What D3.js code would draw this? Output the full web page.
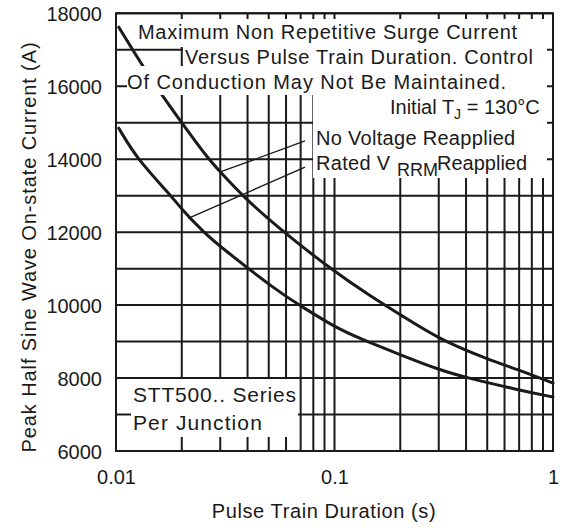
<!DOCTYPE html>
<html><head><meta charset="utf-8">
<script src="https://cdn.jsdelivr.net/npm/d3@7"></script>
<style>
body{margin:0;background:#fff}
svg{display:block}
text{font-family:"Liberation Sans",Arial,Helvetica,sans-serif;fill:#1a1a1a}
</style></head><body>
<svg id="c" width="562" height="528"></svg>
<script>
// ---- data ----
const gridDurations = [0.01,0.02,0.03,0.04,0.05,0.06,0.07,0.08,0.09,0.1,0.2,0.3,0.4,0.5,0.6,0.7,0.8,0.9,1];
const gridCurrents = [6000,7000,8000,9000,10000,11000,12000,13000,14000,15000,16000,17000,18000];
const xTickValues = [0.01,0.1,1];
const xTickLabels = ["0.01","0.1","1"];
const yTickValues = [6000,8000,10000,12000,14000,16000,18000];
const yTickLabels = ["6000","8000","10000","12000","14000","16000","18000"];

const noVoltDuration = [0.0103,0.013,0.0162,0.02,0.0261,0.03,0.0381,0.0545,0.0953,0.15,0.2,0.3,0.5,0.7,1.0];
const noVoltCurrent  = [17620,16630,15760,15000,14050,13650,12980,12150,11000,10200,9740,9070,8520,8220,7860];
const ratedDuration  = [0.0103,0.0125,0.0179,0.02,0.0252,0.03,0.0563,0.0696,0.1,0.131,0.2,0.3,0.4,0.7,1.0];
const ratedCurrent   = [14850,14000,13000,12620,12000,11600,10330,9990,9400,9080,8640,8230,8010,7670,7480];

const leaderNoVolt = [[0.03,13650],[0.0733,14500]];
const leaderRated  = [[0.0214,12380],[0.0733,13780]];

// ---- layout ----
const svg = d3.select("#c");
const L = 116, R = 553, T = 13.3, B = 451;
const x = d3.scaleLog().domain([0.01,1]).range([L,R]);
const y = d3.scaleLinear().domain([6000,18000]).range([B,T]);
const ink = "#1a1a1a";

// mask regions where annotation text sits over the grid
const defs = svg.append("defs");
const mask = defs.append("mask").attr("id","gm").attr("maskUnits","userSpaceOnUse")
  .attr("x",0).attr("y",0).attr("width",562).attr("height",528);
mask.append("rect").attr("width",562).attr("height",528).attr("fill","#fff");
const holes = [
  [133,19,547,47],[183,47,547,66],[127,66,547,95],[313,95,547,178],[131,379,298,437]
];
mask.selectAll("rect.h").data(holes).join("rect").attr("class","h")
  .attr("x",d=>d[0]).attr("y",d=>d[1]).attr("width",d=>d[2]-d[0]).attr("height",d=>d[3]-d[1])
  .attr("fill","#000");

const grid = svg.append("g").attr("mask","url(#gm)").attr("stroke",ink).attr("stroke-width",2);
grid.selectAll("line.v").data(gridDurations).join("line").attr("class","v")
  .attr("x1",d=>x(d)).attr("x2",d=>x(d)).attr("y1",T).attr("y2",B);
grid.selectAll("line.h").data(gridCurrents).join("line").attr("class","h")
  .attr("x1",L).attr("x2",R).attr("y1",d=>y(d)).attr("y2",d=>y(d));

// curves (hidden under masked text rows as in the original)
const line = d3.line().x(d=>x(d[0])).y(d=>y(d[1])).curve(d3.curveBasis);
const curves = svg.append("g").attr("mask","url(#gm)").attr("fill","none").attr("stroke",ink)
  .attr("stroke-width",3).attr("stroke-linecap","round");
curves.append("path").attr("d",line(noVoltDuration.map((t,i)=>[t,noVoltCurrent[i]])));
curves.append("path").attr("d",line(ratedDuration.map((t,i)=>[t,ratedCurrent[i]])));

// frame
svg.append("rect").attr("x",L).attr("y",T).attr("width",R-L).attr("height",B-T)
  .attr("fill","none").attr("stroke",ink).attr("stroke-width",2);

// leader lines
const lg = svg.append("g").attr("stroke",ink).attr("stroke-width",1.4);
[leaderNoVolt,leaderRated].forEach(p=>{
  lg.append("line").attr("x1",x(p[0][0])).attr("y1",y(p[0][1])).attr("x2",x(p[1][0])).attr("y2",y(p[1][1]));
});

// axes
const yAxis = d3.axisLeft(y).tickValues(yTickValues).tickSize(0).tickPadding(14)
  .tickFormat((d,i)=>yTickLabels[i]);
const ya = svg.append("g").attr("transform",`translate(${L},0)`).call(yAxis);
ya.select(".domain").remove();
ya.selectAll("text").attr("font-size",20).attr("font-family","Liberation Sans, Arial, sans-serif").attr("fill",ink).attr("dy","0.36em");

const xAxis = d3.axisBottom(x).tickValues(xTickValues).tickSize(0).tickPadding(19)
  .tickFormat((d,i)=>xTickLabels[i]);
const xa = svg.append("g").attr("transform",`translate(0,${B})`).call(xAxis);
xa.select(".domain").remove();
xa.selectAll("text").attr("font-size",20).attr("font-family","Liberation Sans, Arial, sans-serif").attr("fill",ink);

// axis titles
svg.append("text").attr("x",324).attr("y",518).attr("text-anchor","middle")
  .attr("font-size",20).attr("letter-spacing",0.6).text("Pulse Train Duration (s)");
svg.append("text").attr("transform","translate(36,247) rotate(-90)").attr("text-anchor","middle")
  .attr("font-size",20).attr("letter-spacing",0.9).text("Peak Half Sine Wave On-state Current (A)");

// annotations
const ann = svg.append("g").attr("font-size",20);
ann.append("text").attr("x",138).attr("y",38.5).attr("letter-spacing",0.7).text("Maximum Non Repetitive Surge Current");
ann.append("text").attr("x",185).attr("y",63.5).attr("letter-spacing",0.7).text("Versus Pulse Train Duration. Control");
ann.append("text").attr("x",127).attr("y",88.5).attr("letter-spacing",0.92).text("Of Conduction May Not Be Maintained.");
const ti = ann.append("text").attr("x",390).attr("y",113.5).attr("font-size",20);
ti.append("tspan").text("Initial T");
ti.append("tspan").attr("dy",5).attr("font-size",14).text("J");
ti.append("tspan").attr("dy",-5).text(" = 130°C");
ann.append("text").attr("x",316).attr("y",145).attr("letter-spacing",0.3).text("No Voltage Reapplied");
ann.append("text").attr("x",316).attr("y",170).attr("letter-spacing",0.3).text("Rated V");
ann.append("text").attr("x",397).attr("y",176).attr("font-size",18).text("RRM");
ann.append("text").attr("x",437).attr("y",170).text("Reapplied");
ann.append("text").attr("x",133).attr("y",402).attr("font-size",21).attr("letter-spacing",0.8).text("STT500.. Series");
ann.append("text").attr("x",133).attr("y",430).attr("font-size",21).attr("letter-spacing",1.1).text("Per Junction");
</script>
</body></html>
